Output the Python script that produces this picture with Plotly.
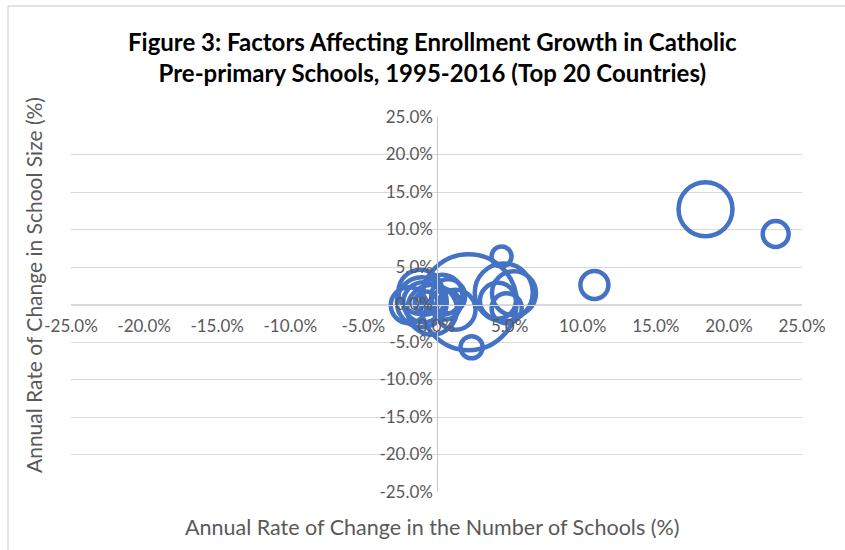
import plotly.graph_objects as go

# Data (percent values)
school_change = [18.4, 23.2, 10.8, 2.2, 4.45, 2.4, 4.6, 5.3, 4.8, 4.2,
                 -1.0, -0.9, 0.4, -0.7, 0.8, -1.9, -1.1, 1.3, -0.3, 0.6]
size_change = [12.7, 9.4, 2.6, 0.3, 6.4, -5.7, 1.6, 1.5, -0.5, 0.5,
               0.3, 0.3, 1.3, 0.2, 1.1, -0.1, 1.7, -0.7, -0.7, 0.0]
bubble_value = [31.6, 7.3, 8.5, 100, 4.3, 5.3, 36.5, 21, 9.8, 14,
                27, 17.4, 17.4, 5.7, 12.5, 14, 21, 17.4, 27, 9.8]

tick_vals = [-25, -20, -15, -10, -5, 0, 5, 10, 15, 20, 25]
tick_text = [f"{v:.1f}%" for v in tick_vals]

W, H = 845, 550
L, R, T, B = 71, 43, 117, 58
PW, PH = W - L - R, H - T - B


def px(x):
    return (x - L) / PW


def py(y):
    return (H - B - y) / PH


FONT = "Lato"
GREY = "#595959"
BLUE = "#4472C4"

max_d = 96
fig = go.Figure()
fig.add_trace(go.Scatter(
    x=school_change, y=size_change, mode="markers",
    marker=dict(
        size=bubble_value, sizemode="area",
        sizeref=2.0 * max(bubble_value) / (max_d ** 2),
        color="rgba(0,0,0,0)", opacity=1,
        line=dict(color=BLUE, width=4.5),
    ),
    hoverinfo="x+y",
    cliponaxis=False,
))

axis_common = dict(
    range=[-25, 25], tickvals=tick_vals, ticktext=tick_text,
    ticks="", zeroline=False, showline=True, linewidth=1.3,
    tickfont=dict(family=FONT, size=17, color=GREY),
    anchor="free", position=0.5, fixedrange=True,
)
fig.update_xaxes(**axis_common, showgrid=False, linecolor="#d9d9d9",
                 ticklabelstandoff=6)
fig.update_yaxes(**axis_common, showgrid=True, gridcolor="#d9d9d9",
                 gridwidth=1.3, linecolor="#c8c8c8")

fig.update_layout(
    width=W, height=H,
    margin=dict(l=L, r=R, t=T, b=B),
    paper_bgcolor="white", plot_bgcolor="white",
    showlegend=False,
    annotations=[
        dict(text="<b>Figure 3: Factors Affecting Enrollment Growth in Catholic<br>"
                  "Pre-primary Schools, 1995-2016 (Top 20 Countries)</b>",
             x=px(432), y=py(57), xref="paper", yref="paper",
             xanchor="center", yanchor="middle", showarrow=False,
             font=dict(family=FONT, size=24, color="black")),
        dict(text="Annual Rate of Change in the Number of Schools (%)",
             x=px(432), y=py(527), xref="paper", yref="paper",
             xanchor="center", yanchor="middle", showarrow=False,
             font=dict(family=FONT, size=21.5, color=GREY)),
        dict(text="Annual Rate of Change in School Size (%)",
             x=px(33), y=py(285), xref="paper", yref="paper", textangle=-90,
             xanchor="center", yanchor="middle", showarrow=False,
             font=dict(family=FONT, size=21, color=GREY)),
    ],
    shapes=[
        dict(type="line", xref="paper", yref="paper",
             x0=px(8), x1=px(W + 5), y0=py(6), y1=py(6),
             line=dict(color="#d9d9d9", width=1.3)),
        dict(type="line", xref="paper", yref="paper",
             x0=px(8), x1=px(8), y0=py(6), y1=py(H + 5),
             line=dict(color="#d9d9d9", width=1.3)),
    ],
)

fig.write_html("out.html")
